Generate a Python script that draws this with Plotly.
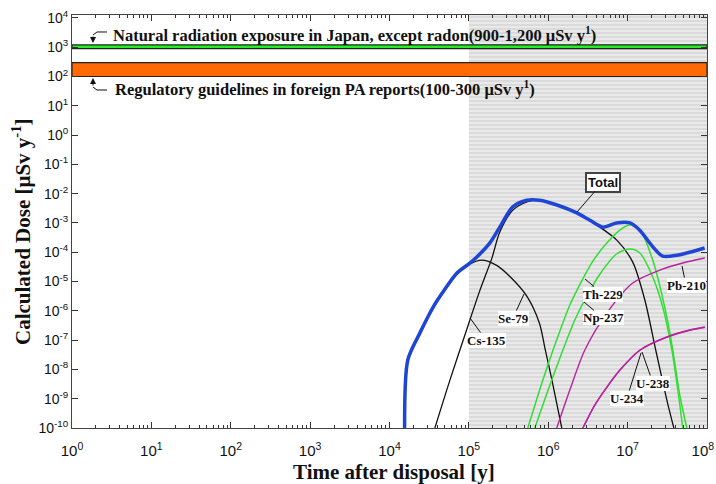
import plotly.graph_objects as go

# ---------------- data ----------------
total_t = [1.55e4, 1.70e4, 2.40e4, 3.55e4, 4.27e4, 7.08e4, 1.0e5, 1.26e5, 1.82e5, 2.45e5,
           3.55e5, 5.37e5, 7.76e5, 1.29e6, 2.29e6, 3.31e6, 4.90e6, 7.24e6, 1.07e7, 1.41e7,
           2.09e7, 2.75e7, 4.17e7, 6.03e7, 9.33e7]
total_d = [1e-10, 2.1e-8, 1.7e-7, 1.35e-6, 2.95e-6, 1.95e-5, 4.0e-5, 6.9e-5, 2.0e-4, 7.2e-4,
           3.5e-3, 6.0e-3, 6.0e-3, 4.1e-3, 2.2e-3, 1.26e-3, 7.2e-4, 1.0e-3, 1.0e-3, 5.75e-4,
           1.5e-4, 7.4e-5, 7.9e-5, 1.0e-4, 1.4e-4]

se79_t = [1.55e4, 1.70e4, 2.40e4, 3.55e4, 4.27e4, 7.08e4, 1.0e5, 1.45e5, 2.24e5, 3.31e5,
          5.37e5, 7.76e5, 9.12e5, 1.12e6, 1.48e6]
se79_d = [1e-10, 2.0e-8, 1.66e-7, 1.26e-6, 2.8e-6, 1.78e-5, 3.8e-5, 5.4e-5, 3.55e-5, 1.45e-5,
          3.16e-6, 3.7e-7, 5.0e-8, 4.0e-9, 1e-10]

cs135_t = [3.73e4, 5.77e4, 8.91e4, 1.38e5, 1.95e5, 2.45e5, 3.58e5, 5.37e5, 7.18e5, 1.28e6,
           2.29e6, 4.47e6, 7.31e6, 1.16e7, 1.65e7, 2.26e7, 3.12e7, 3.82e7]
cs135_d = [1e-10, 4.3e-9, 1.5e-7, 5.1e-6, 6.3e-5, 4.9e-4, 2.75e-3, 5.2e-3, 6.0e-3, 4.1e-3,
           2.2e-3, 7.2e-4, 2.6e-4, 4.6e-5, 2.3e-6, 4.6e-8, 9.0e-10, 1e-10]

th229_t = [5.53e5, 8.55e5, 1.21e6, 1.87e6, 2.50e6, 3.65e6, 5.47e6, 7.98e6, 1.07e7, 1.43e7,
           2.07e7, 3.12e7, 3.71e7, 4.54e7, 5.57e7]
th229_d = [1e-10, 4.35e-9, 6.8e-8, 1.58e-6, 7.9e-6, 5.0e-5, 2.06e-4, 5.73e-4, 8.47e-4, 5.73e-4,
           5.42e-5, 6.14e-7, 4.59e-8, 1.34e-9, 1e-10]

np237_t = [6.78e5, 1.05e6, 1.53e6, 2.16e6, 3.06e6, 4.47e6, 7.31e6, 1.07e7, 1.43e7, 2.07e7,
           2.77e7, 3.61e7, 4.29e7, 4.95e7]
np237_d = [1e-10, 2.94e-9, 4.59e-8, 4.85e-7, 3.16e-6, 1.78e-5, 8.9e-5, 1.29e-4, 9.4e-5, 1.43e-5,
           1.35e-6, 4.59e-8, 1.98e-9, 1e-10]

pb210_t = [1.28e6, 1.87e6, 2.89e6, 5.47e6, 1.16e7, 2.55e7, 4.95e7, 9.38e7]
pb210_d = [1e-10, 1.98e-9, 4.59e-8, 8.41e-7, 8.89e-6, 2.47e-5, 4.28e-5, 6.34e-5]

u234_t = [2.73e6, 3.86e6, 5.47e6, 7.98e6, 1.43e7, 3.12e7, 6.07e7, 9.38e7]
u234_d = [1e-10, 6.1e-10, 2.5e-9, 9.5e-9, 4.59e-8, 1.28e-7, 2.21e-7, 2.8e-7]
u238_t = [2.73e6, 3.86e6, 5.47e6, 7.98e6, 1.43e7, 3.12e7, 6.07e7, 9.38e7]
u238_d = [1e-10, 6.0e-10, 2.45e-9, 9.3e-9, 4.5e-8, 1.26e-7, 2.18e-7, 2.75e-7]

natural_band = [900, 1200]      # uSv/y
regulatory_band = [100, 300]    # uSv/y
band_t = [1, 1e8]
shaded_t = [1e5, 1e8]

x_tickvals = [1, 1e1, 1e2, 1e3, 1e4, 1e5, 1e6, 1e7, 1e8]
x_ticktext = ["10<sup>0</sup>", "10<sup>1</sup>", "10<sup>2</sup>", "10<sup>3</sup>", "10<sup>4</sup>",
              "10<sup>5</sup>", "10<sup>6</sup>", "10<sup>7</sup>", "10<sup>8</sup>\u00a0\u00a0"]
y_tickvals = [10.0 ** i for i in range(-10, 5)]
y_ticktext = ["10<sup>%d</sup>" % i for i in range(-10, 5)]

# ---------------- figure ----------------
L, R, T, B = 72, 707, 15, 428
def px(x):
    return (x - L) / (R - L)
def py(y):
    return (B - y) / (B - T)

SERIF = "Liberation Serif, Times New Roman, serif"
SANS = "Liberation Sans, Arial, sans-serif"
INK = "#111111"

fig = go.Figure()

# shaded (hatched) region
fig.add_trace(go.Scatter(
    x=[shaded_t[0], shaded_t[1], shaded_t[1], shaded_t[0], shaded_t[0]],
    y=[1e-11, 1e-11, 1e5, 1e5, 1e-11],
    mode="lines", line=dict(width=0), fill="toself", fillcolor="#e4e4e4",
    fillpattern=dict(shape="-", bgcolor="#e9e9e9", fgcolor="#cbcbcb", size=4, solidity=0.5),
    hoverinfo="skip", showlegend=False))

# bands
fig.add_trace(go.Scatter(
    x=[band_t[0], band_t[1], band_t[1], band_t[0], band_t[0]],
    y=[natural_band[0], natural_band[0], natural_band[1], natural_band[1], natural_band[0]],
    mode="lines", line=dict(color="#222222", width=1.2), fill="toself", fillcolor="#22ee22",
    hoverinfo="skip", showlegend=False))
fig.add_trace(go.Scatter(
    x=[band_t[0], band_t[1], band_t[1], band_t[0], band_t[0]],
    y=[regulatory_band[0], regulatory_band[0], regulatory_band[1], regulatory_band[1], regulatory_band[0]],
    mode="lines", line=dict(color="#222222", width=1.2), fill="toself", fillcolor="#ff6a06",
    hoverinfo="skip", showlegend=False))

def curve(t, d, color, width, name):
    fig.add_trace(go.Scatter(x=t, y=d, mode="lines", name=name,
                             line=dict(color=color, width=width, shape="spline", smoothing=0.8),
                             hoverinfo="skip", showlegend=False))

curve(se79_t, se79_d, INK, 1.3, "Se-79")
curve(cs135_t, cs135_d, INK, 1.3, "Cs-135")
curve(th229_t, th229_d, "#33dd33", 1.5, "Th-229")
curve(np237_t, np237_d, "#33dd33", 1.5, "Np-237")
curve(pb210_t, pb210_d, "#b8239e", 1.4, "Pb-210")
curve(u234_t, u234_d, "#b8239e", 1.4, "U-234")
curve(u238_t, u238_d, "#b8239e", 1.4, "U-238")
curve(total_t, total_d, "#1f45d6", 3.5, "Total")

# curve labels (tip pixel, text-centre pixel)
labels = [
    ("Total", (577, 212), (603, 182), SANS, True),
    ("Se-79", (524, 294), (513, 318), SERIF, False),
    ("Cs-135", (470, 318), (486, 340), SERIF, False),
    ("Th-229", (585, 279), (603, 294), SERIF, False),
    ("Np-237", (584, 302), (603, 318), SERIF, False),
    ("Pb-210", (682, 266), (686, 285), SERIF, False),
    ("U-238", (642, 352), (653, 383), SERIF, False),
    ("U-234", (641, 353), (627, 398), SERIF, False),
]
for text, tip, pos, fam, boxed in labels:
    fig.add_annotation(
        xref="paper", yref="paper", x=px(tip[0]), y=py(tip[1]),
        ax=pos[0] - tip[0], ay=pos[1] - tip[1],
        text="<b>%s</b>" % text, showarrow=True, arrowhead=0, arrowwidth=1,
        arrowcolor=INK, standoff=0,
        font=dict(family=fam, size=13, color=INK),
        bgcolor="white", borderpad=1 if boxed else 0,
        bordercolor="#444444" if boxed else "rgba(0,0,0,0)",
        borderwidth=2 if boxed else 0)

# band texts
fig.add_annotation(xref="paper", yref="paper", x=px(111), y=py(35), xanchor="left", yanchor="middle",
                   text="<b>Natural radiation exposure in Japan, except radon(900-1,200 \u03bcSv y<sup>1</sup>)</b>",
                   showarrow=False, font=dict(family=SERIF, size=16.5, color=INK))
fig.add_annotation(xref="paper", yref="paper", x=px(113), y=py(89), xanchor="left", yanchor="middle",
                   text="<b>Regulatory guidelines in foreign PA reports(100-300 \u03bcSv y<sup>1</sup>)</b>",
                   showarrow=False, font=dict(family=SERIF, size=16.5, color=INK))

# bracket arrows
def path(points):
    return "M " + " L ".join("%f,%f" % (px(a), py(b)) for a, b in points)
fig.add_shape(type="path", xref="paper", yref="paper", path=path([(107, 32), (97, 32), (93, 35)]),
              line=dict(color=INK, width=1))
fig.add_shape(type="path", xref="paper", yref="paper", path=path([(107, 90), (97, 90), (93, 87)]),
              line=dict(color=INK, width=1))
fig.add_annotation(xref="paper", yref="paper", x=px(93), y=py(43), ax=0, ay=-8, text="",
                   showarrow=True, arrowhead=2, arrowsize=1.2, arrowwidth=1, arrowcolor=INK, standoff=0)
fig.add_annotation(xref="paper", yref="paper", x=px(93), y=py(78), ax=0, ay=9, text="",
                   showarrow=True, arrowhead=2, arrowsize=1.2, arrowwidth=1, arrowcolor=INK, standoff=0)

# axis titles
fig.add_annotation(xref="paper", yref="paper", x=px(394), y=py(472), xanchor="center", yanchor="middle",
                   text="<b>Time after disposal [y]</b>", showarrow=False,
                   font=dict(family=SERIF, size=21, color=INK))
fig.add_annotation(xref="paper", yref="paper", x=px(22), y=py(232), xanchor="center", yanchor="middle",
                   text="<b>Calculated Dose [\u03bcSv y<sup>-1</sup>]</b>", showarrow=False, textangle=-90,
                   font=dict(family=SERIF, size=21, color=INK))

minor_x = [m * 10 ** k for k in range(0, 8) for m in range(2, 10)]

fig.update_xaxes(
    type="log", range=[0, 8], tickvals=x_tickvals, ticktext=x_ticktext, automargin=False,
    ticks="inside", ticklen=6, tickcolor="#333333", showgrid=False, zeroline=False,
    showline=True, linecolor="#444444", linewidth=1, mirror="ticks", ticklabeloverflow="allow",
    ticklabelstandoff=9,
    minor=dict(tickvals=minor_x, ticks="inside", ticklen=3, tickcolor="#333333", showgrid=False),
    tickfont=dict(family=SANS, size=15, color=INK))
fig.update_yaxes(
    type="log", range=[-10, 4.1], tickvals=y_tickvals, ticktext=y_ticktext, automargin=False,
    ticks="inside", ticklen=6, tickcolor="#333333", showgrid=False, zeroline=False,
    showline=True, linecolor="#444444", linewidth=1, mirror="ticks", ticklabeloverflow="allow",
    tickfont=dict(family=SANS, size=14, color=INK))

fig.update_layout(
    width=716, height=484,
    margin=dict(l=L, r=716 - R, t=T, b=484 - B, autoexpand=False),
    paper_bgcolor="white", plot_bgcolor="white",
    showlegend=False)

fig.write_html("out.html", config={"displayModeBar": False},
               post_script="document.body.style.margin='0';document.body.style.overflow='hidden';")
